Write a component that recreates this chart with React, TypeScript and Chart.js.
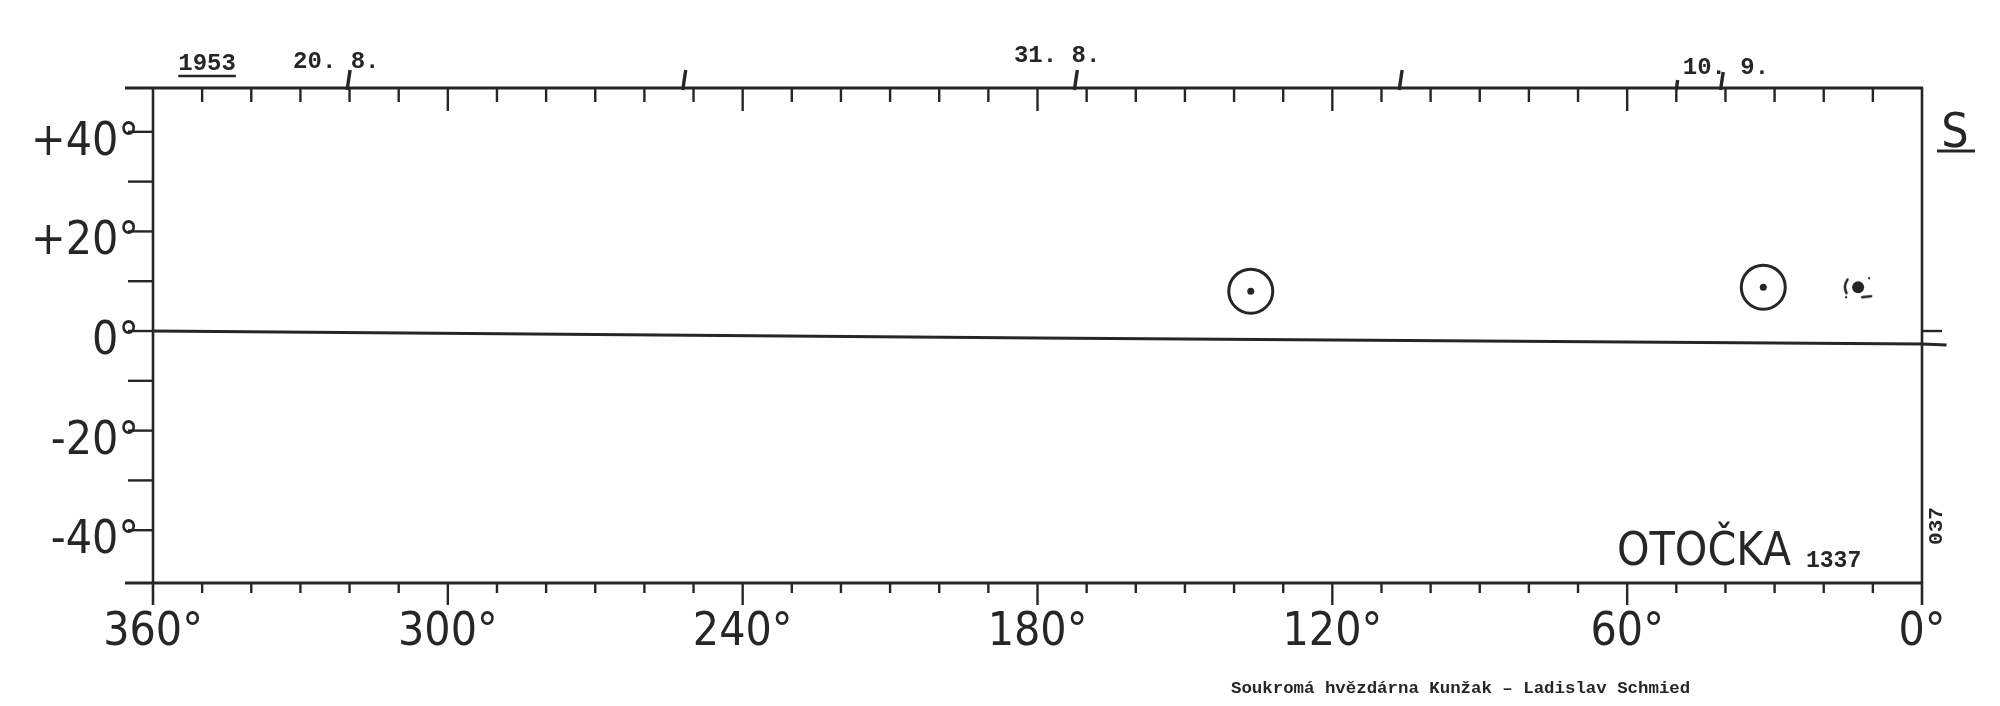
import React, { useEffect, useRef } from "react";
import { Chart, registerables } from "chart.js";

Chart.register(...registerables);

// ---- data ----
const xLabelValues = [0, 60, 120, 180, 240, 300, 360];
const yLabelValues = [-40, -20, 0, 20, 40];

// reference line (drawn slightly sloping in the original)
const lineLon = [360, 180, 0, -5];
const lineLat = [0, -1.4, -2.6, -2.8];

// observed positions (circled)
const circledLon = [136.6, 32.3];
const circledLat = [8.0, 8.8];

// faint / uncertain position
const faintLon = [13.0];
const faintLat = [8.8];

// daily date marks on the top axis (longitude) and their heights
const dateMarkLon = [320.5, 252.2, 172.5, 106.4, 50.0, 41.0];
const dateMarkLen = [18, 18, 18, 18, 8, 16];
const dateLabels = ["1953", "20. 8.", "31. 8.", "10. 9."];
const dateLabelLon = [349.0, 322.7, 176.0, 39.9];

const titleText = "OTOČKA";
const numberText = "1337";
const sideText = "037";
const cornerText = "S";
const footerText = "Soukromá hvězdárna Kunžak – Ladislav Schmied";

const INK = "#262626";
const SANS = '"DejaVu Sans Condensed", "DejaVu Sans", sans-serif';
const MONO = '"Liberation Mono", "DejaVu Sans Mono", monospace';

function makeBracket(): HTMLCanvasElement {
  const c = document.createElement("canvas");
  c.width = 40;
  c.height = 34;
  const g = c.getContext("2d")!;
  g.strokeStyle = INK;
  g.lineWidth = 2.5;
  g.lineCap = "round";
  g.beginPath();
  g.arc(20, 17, 13, Math.PI * 0.85, Math.PI * 1.2);
  g.stroke();
  g.beginPath();
  g.moveTo(24, 27);
  g.lineTo(33, 26);
  g.stroke();
  g.fillStyle = INK;
  g.fillRect(7, 26, 2, 2);
  g.fillRect(30, 7, 2, 2);
  return c;
}

const framePlugin = {
  id: "frame",
  afterDatasetsDraw(chart: any) {
    const { ctx, chartArea: a, scales } = chart;
    const x = scales.x;
    const y = scales.y;
    const seg = (x1: number, y1: number, x2: number, y2: number) => {
      ctx.beginPath();
      ctx.moveTo(x1, y1);
      ctx.lineTo(x2, y2);
      ctx.stroke();
    };
    ctx.save();
    ctx.strokeStyle = INK;
    ctx.fillStyle = INK;
    ctx.lineCap = "butt";

    // frame
    ctx.lineWidth = 3;
    seg(125, a.top, a.right + 1, a.top);
    seg(125, a.bottom, a.right + 1, a.bottom);
    ctx.lineWidth = 2.6;
    seg(a.left, a.top, a.left, a.bottom + 22);
    seg(a.right, a.top - 1, a.right, a.bottom + 22);

    // x ticks (every 10 deg), longer at 60 deg
    ctx.lineWidth = 2.4;
    for (let v = 10; v < 360; v += 10) {
      const px = x.getPixelForValue(v);
      const major = v % 60 === 0;
      seg(px, a.bottom, px, a.bottom + (major ? 22 : 10));
      seg(px, a.top, px, a.top + (major ? 23 : 14));
    }
    // y ticks (every 10 deg) on the left
    for (let v = -40; v <= 40; v += 10) {
      const py = y.getPixelForValue(v);
      seg(a.left - 25, py, a.left, py);
    }
    // small tick at 0 on the right axis
    const p0 = y.getPixelForValue(0);
    seg(a.right, p0, a.right + 20, p0);

    // date marks above the top axis
    ctx.lineWidth = 3.4;
    dateMarkLon.forEach((v, i) => {
      const px = x.getPixelForValue(v);
      const h = dateMarkLen[i];
      seg(px, a.top + 2, px + h / 6, a.top - h);
    });

    // date labels
    const labelY = [64, 62, 56, 68];
    ctx.font = `bold 24px ${MONO}`;
    ctx.textAlign = "center";
    ctx.textBaseline = "middle";
    dateLabels.forEach((t, i) => {
      const px = x.getPixelForValue(dateLabelLon[i]);
      ctx.fillText(t, px, labelY[i]);
      if (i === 0) {
        const w = ctx.measureText(t).width;
        ctx.lineWidth = 2.5;
        seg(px - w / 2, labelY[i] + 12, px + w / 2, labelY[i] + 12);
      }
    });

    // corner "S"
    ctx.font = `48px ${SANS}`;
    ctx.textAlign = "center";
    ctx.textBaseline = "alphabetic";
    ctx.fillText(cornerText, 1955, 147);
    ctx.lineWidth = 3;
    seg(1937, 151, 1975, 151);

    // title
    ctx.textAlign = "left";
    ctx.font = `46px ${SANS}`;
    ctx.fillText(titleText, 1617, 565);
    ctx.font = `bold 23px ${MONO}`;
    ctx.fillText(numberText, 1806, 567);

    // side text rotated
    ctx.save();
    ctx.translate(1937, 526);
    ctx.rotate(-Math.PI / 2);
    ctx.textAlign = "center";
    ctx.textBaseline = "middle";
    ctx.font = `bold 21px ${MONO}`;
    ctx.fillText(sideText, 0, 0);
    ctx.restore();

    // footer
    ctx.font = `bold 17.4px ${MONO}`;
    ctx.textAlign = "left";
    ctx.textBaseline = "middle";
    ctx.fillText(footerText, 1231, 689);

    ctx.restore();
  },
};

export default function App() {
  const ref = useRef<HTMLCanvasElement | null>(null);

  useEffect(() => {
    if (!ref.current) return;
    const bracket = makeBracket();
    const circled = circledLon.map((v, i) => ({ x: v, y: circledLat[i] }));
    const faint = faintLon.map((v, i) => ({ x: v, y: faintLat[i] }));
    const chart = new Chart(ref.current, {
      type: "scatter",
      data: {
        datasets: [
          {
            type: "line",
            data: lineLon.map((v, i) => ({ x: v, y: lineLat[i] })),
            borderColor: INK,
            borderWidth: 3,
            pointRadius: 0,
            tension: 0,
            clip: false,
          } as any,
          {
            data: circled,
            pointStyle: "circle",
            pointRadius: 22,
            pointBorderWidth: 3,
            pointBorderColor: INK,
            pointBackgroundColor: "rgba(0,0,0,0)",
          },
          {
            data: circled,
            pointStyle: "circle",
            pointRadius: 3.5,
            pointBorderWidth: 0,
            pointBackgroundColor: INK,
          },
          {
            data: faint,
            pointStyle: "circle",
            pointRadius: 6,
            pointBorderWidth: 0,
            pointBackgroundColor: INK,
          },
          {
            data: faint,
            pointStyle: bracket as any,
            pointRadius: 15,
          },
        ],
      },
      options: {
        responsive: false,
        animation: false,
        devicePixelRatio: 1,
        events: [],
        layout: { padding: { left: 0, right: 78, top: 88, bottom: 0 } },
        plugins: {
          legend: { display: false },
          tooltip: { enabled: false },
          title: { display: false },
        },
        scales: {
          x: {
            type: "linear",
            reverse: true,
            min: 0,
            max: 360,
            position: "bottom",
            afterBuildTicks: (s: any) => {
              s.ticks = xLabelValues.map((v) => ({ value: v }));
            },
            afterFit: (s: any) => {
              s.height = 123;
            },
            grid: { display: false, drawTicks: false },
            border: { display: false },
            ticks: {
              padding: 22,
              color: INK,
              font: { family: SANS, size: 46 },
              maxRotation: 0,
              autoSkip: false,
              callback: (v: any) => `${v}°`,
            },
          },
          y: {
            type: "linear",
            min: -50.6,
            max: 48.8,
            position: "left",
            afterBuildTicks: (s: any) => {
              s.ticks = yLabelValues.map((v) => ({ value: v }));
            },
            afterFit: (s: any) => {
              s.width = 153;
            },
            grid: { display: false, drawTicks: false },
            border: { display: false },
            ticks: {
              padding: 14,
              labelOffset: 11,
              color: INK,
              font: { family: SANS, size: 46 },
              autoSkip: false,
              callback: (v: any) => (v > 0 ? `+${v}°` : `${v}°`),
            },
          },
        },
      },
      plugins: [framePlugin],
    });
    return () => chart.destroy();
  }, []);

  return (
    <div style={{ position: "fixed", left: 0, top: 0, width: 2000, height: 706, background: "#fff" }}>
      <canvas ref={ref} width={2000} height={706} style={{ display: "block", width: 2000, height: 706 }} />
    </div>
  );
}
